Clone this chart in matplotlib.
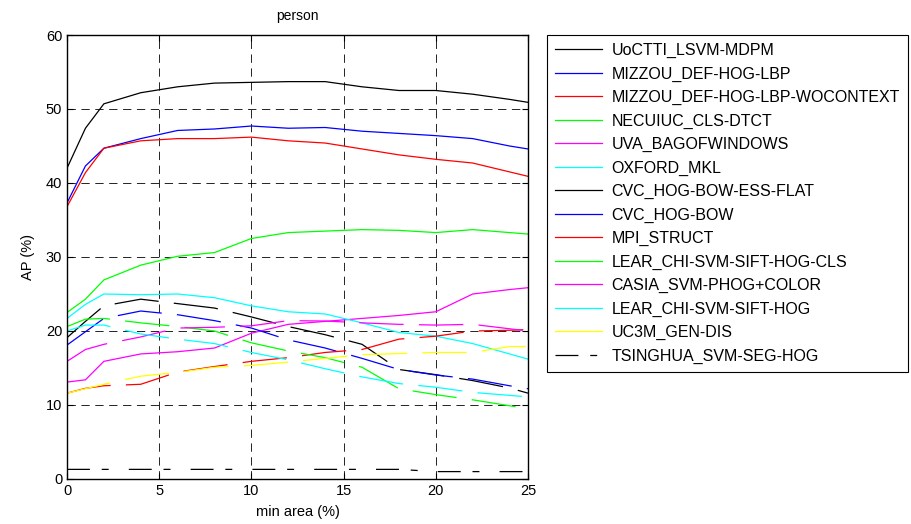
import matplotlib
matplotlib.use("Agg")
import matplotlib.pyplot as plt

plt.rcParams['font.family'] = ['Liberation Sans', 'DejaVu Sans']
plt.rcParams['lines.scale_dashes'] = False

x = [0, 1, 2, 4, 6, 8, 10, 12, 14, 16, 18, 20, 22, 24, 25]

names = ["UoCTTI_LSVM-MDPM", "MIZZOU_DEF-HOG-LBP", "MIZZOU_DEF-HOG-LBP-WOCONTEXT",
         "NECUIUC_CLS-DTCT", "UVA_BAGOFWINDOWS", "OXFORD_MKL", "CVC_HOG-BOW-ESS-FLAT",
         "CVC_HOG-BOW", "MPI_STRUCT", "LEAR_CHI-SVM-SIFT-HOG-CLS", "CASIA_SVM-PHOG+COLOR",
         "LEAR_CHI-SVM-SIFT-HOG", "UC3M_GEN-DIS", "TSINGHUA_SVM-SEG-HOG"]

uoctti = [42.0, 47.4, 50.7, 52.2, 53.0, 53.5, 53.6, 53.7, 53.7, 53.0, 52.5, 52.5, 52.0, 51.3, 50.9]
mizzou = [37.3, 42.3, 44.7, 46.0, 47.1, 47.3, 47.7, 47.4, 47.5, 47.0, 46.7, 46.4, 46.0, 45.0, 44.6]
mizzou_wo = [36.8, 41.4, 44.7, 45.7, 46.0, 46.0, 46.2, 45.7, 45.4, 44.6, 43.8, 43.2, 42.7, 41.5, 40.9]
necuiuc = [22.5, 24.3, 26.9, 28.9, 30.1, 30.6, 32.5, 33.3, 33.5, 33.7, 33.6, 33.3, 33.7, 33.3, 33.1]
uva = [13.1, 13.4, 15.9, 16.9, 17.2, 17.7, 19.7, 20.9, 21.3, 21.7, 22.1, 22.6, 25.0, 25.6, 25.85]
oxford = [21.7, 23.6, 25.0, 24.9, 25.0, 24.5, 23.4, 22.6, 22.3, 21.1, 19.8, 19.3, 18.3, 16.9, 16.2]
cvc_ess = [19.1, 21.3, 23.4, 24.3, 23.7, 23.1, 21.9, 20.6, 19.5, 18.2, 14.8, 14.1, 13.3, 12.3, 11.6]
cvc_bow = [18.1, 19.9, 21.7, 22.7, 22.2, 21.4, 20.4, 18.8, 17.7, 16.3, 14.8, 14.05, 13.5, 12.6, 12.2]
mpi = [11.6, 12.25, 12.6, 12.8, 14.45, 15.2, 15.9, 16.4, 17.1, 17.5, 18.9, 19.3, 20.0, 20.1, 20.2]
lear_cls = [20.6, 21.6, 21.7, 21.1, 20.6, 20.0, 18.4, 17.3, 16.4, 15.1, 12.2, 11.4, 10.7, 9.9, 9.5]
casia = [15.9, 17.5, 18.2, 19.2, 20.4, 20.5, 20.7, 21.4, 21.35, 21.1, 20.9, 20.8, 20.9, 20.3, 20.0]
lear = [20.0, 20.8, 20.8, 19.6, 18.9, 18.3, 17.1, 16.1, 14.9, 13.8, 12.9, 12.4, 11.7, 11.3, 11.1]
uc3m = [11.6, 12.2, 12.8, 13.9, 14.4, 15.1, 15.35, 15.8, 16.3, 16.8, 16.95, 17.1, 17.1, 17.9, 17.9]
tsinghua = [1.3, 1.3, 1.3, 1.3, 1.3, 1.3, 1.3, 1.3, 1.3, 1.3, 1.3, 1.0, 1.0, 1.0, 1.0]

series = [uoctti, mizzou, mizzou_wo, necuiuc, uva, oxford, cvc_ess, cvc_bow, mpi,
          lear_cls, casia, lear, uc3m, tsinghua]
K, B, R, G, M, C, Y = (0, 0, 0), (0, 0, 1), (1, 0, 0), (0, 1, 0), (1, 0, 1), (0, 1, 1), (1, 1, 0)
colors = [K, B, R, G, M, C, K, B, R, G, M, C, Y, K]
dashed = (0, (32, 11))
dashdot = (0, (16.5, 8.5, 5, 14.5))
styles = ['-'] * 6 + [dashed] * 7 + [dashdot]

x_ticks = [0, 5, 10, 15, 20, 25]
y_ticks = [0, 10, 20, 30, 40, 50, 60]

fig = plt.figure(figsize=(9.12, 5.24), dpi=100)
ax = fig.add_axes([67 / 912, 1 - 479 / 524, (528 - 67) / 912, (479 - 35) / 524])

for name, vals, c, ls in zip(names, series, colors, styles):
    ax.plot(x, vals, color=c, linestyle=ls, linewidth=0.9, label=name)

ax.set_xlim(0, 25)
ax.set_ylim(0, 60)
ax.set_xticks(x_ticks)
ax.set_yticks(y_ticks)
ax.tick_params(direction='in', top=True, right=True, labelsize=10.5, length=4, width=0.8)
ax.grid(True, color='k', linestyle=(0, (6, 4)), linewidth=0.6)
for sp in ax.spines.values():
    sp.set_linewidth(1.0)
ax.set_title("person", fontsize=10, pad=11)
ax.set_xlabel("min area (%)", fontsize=10.5, labelpad=5)
ax.set_ylabel("AP (%)", fontsize=10.5, labelpad=8)

leg = fig.legend(loc='upper left', bbox_to_anchor=(547 / 912, 1 - 35 / 524),
                 bbox_transform=fig.transFigure, borderaxespad=0, fontsize=11.5,
                 frameon=True, fancybox=False, framealpha=1, edgecolor='k',
                 handlelength=2.94, handletextpad=0.59, labelspacing=0.523,
                 borderpad=0.5)
leg.get_frame().set_linewidth(0.8)
for h in leg.get_lines():
    h.set_linestyle('-')
leg.get_lines()[-1].set_linestyle(dashdot)

fig.savefig("out.png", dpi=100)
